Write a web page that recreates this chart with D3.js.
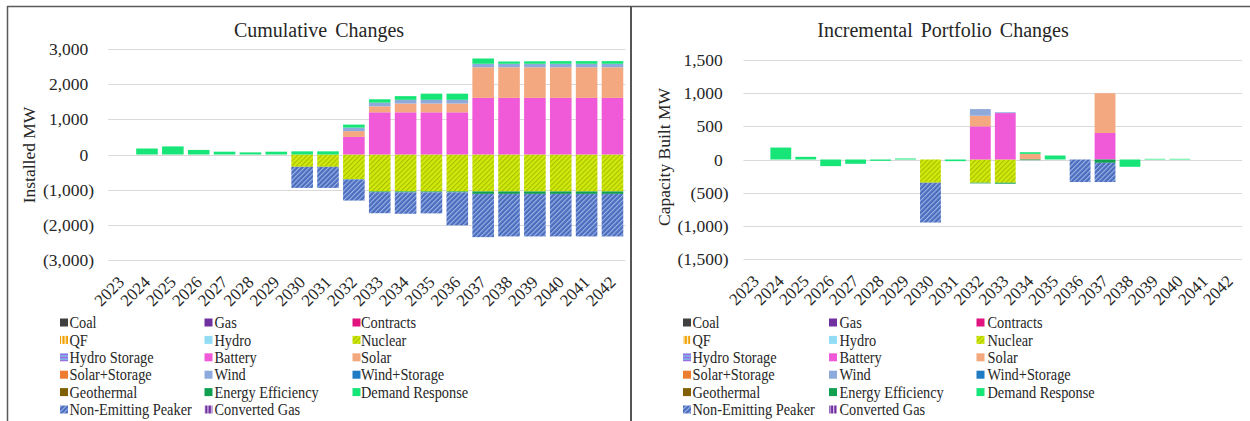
<!DOCTYPE html>
<html><head><meta charset="utf-8">
<script src="https://cdn.jsdelivr.net/npm/d3@7"></script>
<style>
body{margin:0;background:#fff}
svg{display:block}
svg text{font-family:"Liberation Serif","Times New Roman",Times,serif;fill:#262626}
</style>
</head><body>
<svg id="c" width="1250" height="421" font-family="Liberation Serif, Times New Roman, serif"></svg>
<script>
// ---------- DATA ----------
const years = ["2023","2024","2025","2026","2027","2028","2029","2030","2031","2032",
               "2033","2034","2035","2036","2037","2038","2039","2040","2041","2042"];

const seriesNames = ["Coal","Gas","Contracts","QF","Hydro","Nuclear","Hydro Storage","Battery",
  "Solar","Solar+Storage","Wind","Wind+Storage","Geothermal","Energy Efficiency",
  "Demand Response","Non-Emitting Peaker","Converted Gas"];

const seriesColors = ["#404040","#7030A0","#E0137F","#F0A000","#92DDF5","#CDE612","#9B6FE0",
  "#F05AD8","#F4A87F","#ED7D31","#8EA9DB","#1F7BC4","#806000","#10A050","#17E577",
  "#4D70C0","#7030A0"];

// Cumulative Changes (MW)
const cumNuclear = [0,0,0,0,0,0,0,-350,-350,-700,-1050,-1050,-1050,-1050,-1050,-1050,-1050,-1050,-1050,-1050];
const cumBattery = [0,0,0,0,0,0,0,0,0,500,1200,1200,1200,1200,1610,1610,1610,1610,1610,1610];
const cumSolar   = [0,0,0,0,0,0,0,0,0,165,170,250,250,250,870,870,870,870,870,870];
const cumWind    = [0,0,0,0,0,0,0,0,0,100,105,105,105,105,100,100,100,100,100,100];
const cumEE      = [0,0,0,0,0,0,0,0,0,-10,-20,-25,-25,-25,-70,-70,-70,-70,-70,-70];
const cumDR      = [0,170,230,130,80,60,80,90,90,85,95,105,175,175,150,65,70,75,75,75];
const cumPeaker  = [0,0,0,0,0,0,0,-600,-600,-600,-600,-610,-600,-940,-1230,-1210,-1210,-1210,-1210,-1210];

// Incremental Portfolio Changes (MW)
const incNuclear = [0,0,0,0,0,0,0,-350,0,-350,-350,0,0,0,0,0,0,0,0,0];
const incBattery = [0,0,0,0,0,0,0,0,0,500,700,0,0,0,400,0,0,0,0,0];
const incSolar   = [0,0,0,0,0,0,0,0,0,160,0,85,0,0,600,0,0,0,0,0];
const incWind    = [0,0,0,0,0,0,0,0,0,100,12,0,0,0,0,0,0,0,0,0];
const incEE      = [0,0,0,0,0,0,0,0,0,-10,-15,-10,0,0,-50,0,0,0,0,0];
const incDR      = [0,180,40,-100,-65,-20,15,0,-25,0,0,25,60,0,0,-110,10,10,0,0];
const incPeaker  = [0,0,0,0,0,0,0,-600,0,0,0,0,0,-340,-290,0,0,0,0,0];

const leftTicks  = [3000,2000,1000,0,-1000,-2000,-3000];
const rightTicks = [1500,1000,500,0,-500,-1000,-1500];

// ---------- BUILD ----------
function buildRows(map){
  return years.map((y,i)=>{
    const r = {year:y};
    seriesNames.forEach(s=>{ r[s] = map[s] ? map[s][i] : 0; });
    return r;
  });
}
const leftRows = buildRows({"Nuclear":cumNuclear,"Battery":cumBattery,"Solar":cumSolar,"Wind":cumWind,
  "Energy Efficiency":cumEE,"Demand Response":cumDR,"Non-Emitting Peaker":cumPeaker});
const rightRows = buildRows({"Nuclear":incNuclear,"Battery":incBattery,"Solar":incSolar,"Wind":incWind,
  "Energy Efficiency":incEE,"Demand Response":incDR,"Non-Emitting Peaker":incPeaker});

const svg = d3.select("#c");
const defs = svg.append("defs");

function stripePattern(id, bg, fg, w, size, angle){
  const p = defs.append("pattern").attr("id",id).attr("patternUnits","userSpaceOnUse")
    .attr("width",size).attr("height",size).attr("patternTransform",`rotate(${angle})`);
  p.append("rect").attr("width",size).attr("height",size).attr("fill",bg);
  p.append("rect").attr("width",w).attr("height",size).attr("fill",fg);
}
stripePattern("p-nuc","#D0EA0C","#A8BE00",1.1,3.4,45);
stripePattern("p-peak","#4B6DBF","#9DB4E4",1.1,3.4,45);
stripePattern("p-qf","#F0A000","#FFFFFF",1.2,3.4,0);
stripePattern("p-hs","#9B6FE0","#7FB0EA",1.6,3.2,90);
stripePattern("p-cg","#7030A0","#D9C6EA",1.2,3.4,0);

const patFill = {"Nuclear":"url(#p-nuc)","Non-Emitting Peaker":"url(#p-peak)","QF":"url(#p-qf)",
  "Hydro Storage":"url(#p-hs)","Converted Gas":"url(#p-cg)"};
const fillOf = (s,i)=> patFill[s] || seriesColors[i];

const fmt = v => v<0 ? "(" + d3.format(",")(-v) + ")" : d3.format(",")(v);

// frame
svg.append("line").attr("x1",7).attr("x2",1250).attr("y1",6.5).attr("y2",6.5).attr("stroke","#5a5a5a").attr("stroke-width",1.5);
svg.append("line").attr("x1",7.5).attr("x2",7.5).attr("y1",6).attr("y2",421).attr("stroke","#5a5a5a").attr("stroke-width",1.5);
svg.append("line").attr("x1",631).attr("x2",631).attr("y1",6).attr("y2",421).attr("stroke","#555").attr("stroke-width",2);

const FONT = "'Liberation Serif','Times New Roman',serif";

function drawChart(cfg){
  const g = svg.append("g").attr("font-family",FONT);
  const x = d3.scaleBand().domain(years).range([cfg.x0,cfg.x1]).paddingInner(0.165).paddingOuter(0.0825);
  const y = d3.scaleLinear().domain([cfg.ticks[cfg.ticks.length-1], cfg.ticks[0]]).range([cfg.yBot,cfg.yTop]);

  // grid
  g.append("g").selectAll("line").data(cfg.ticks).join("line")
    .attr("x1",cfg.x0).attr("x2",cfg.x1)
    .attr("y1",d=>Math.round(y(d))+0.5).attr("y2",d=>Math.round(y(d))+0.5)
    .attr("stroke","#D9D9D9").attr("stroke-width",1);

  // y labels
  g.append("g").selectAll("text").data(cfg.ticks).join("text")
    .attr("font-family",FONT)
    .attr("x",d=> d<0 ? cfg.labX : cfg.labX-5.7)
    .attr("y",d=>y(d)).attr("dy","0.35em")
    .attr("text-anchor","end").attr("font-size",17.5).text(fmt);

  // stacks
  const stack = d3.stack().keys(seriesNames).offset(d3.stackOffsetDiverging);
  const layers = stack(cfg.rows);
  g.append("g").selectAll("g").data(layers).join("g")
    .attr("fill",(d,i)=>fillOf(d.key,i))
    .selectAll("rect").data(d=>d.filter(e=>e[1]!==e[0])).join("rect")
    .attr("x",d=>x(d.data.year)).attr("width",x.bandwidth())
    .attr("y",d=>y(Math.max(d[0],d[1])))
    .attr("height",d=>Math.abs(y(d[0])-y(d[1])));

  // x labels
  g.append("g").selectAll("text").data(years).join("text")
    .attr("font-family",FONT)
    .attr("transform",d=>`translate(${x(d)+x.bandwidth()/2},${cfg.yBot+19}) rotate(-45)`)
    .attr("text-anchor","end").attr("dy","0.35em").attr("font-size",17).text(d=>d);

  // title
  g.append("text").attr("font-family",FONT).attr("x",cfg.titleX).attr("y",cfg.titleY).attr("text-anchor","middle")
    .attr("font-size",20).attr("word-spacing","3px").text(cfg.title);
  // y title
  g.append("text").attr("font-family",FONT).attr("transform",`translate(${cfg.yTitleX},${cfg.yTitleY}) rotate(-90)`)
    .attr("text-anchor","middle").attr("font-size",17.5).text(cfg.yTitle);

  // legend
  const lg = g.append("g");
  seriesNames.forEach((s,i)=>{
    const col = i%3, row = Math.floor(i/3);
    const cy = 322.5 + row*17.4;
    const mx = cfg.legMarkX[col];
    lg.append("rect").attr("x",mx).attr("y",cy-4).attr("width",8).attr("height",8).attr("fill",fillOf(s,i));
    lg.append("text").attr("font-family",FONT).attr("transform",`translate(${cfg.legTextX[col]},${cy}) scale(0.87,1)`)
      .attr("dy","0.35em").attr("font-size",16.5).text(s);
  });
}

drawChart({rows:leftRows, ticks:leftTicks, x0:108.2, x1:625.4, yTop:49, yBot:260,
  labX:94, title:"Cumulative Changes", titleX:319, titleY:36.5,
  yTitle:"Installed MW", yTitleX:35, yTitleY:155,
  legMarkX:[60,204.5,352.5], legTextX:[69.5,214.5,361]});

drawChart({rows:rightRows, ticks:rightTicks, x0:743.4, x1:1242.2, yTop:60, yBot:259,
  labX:728.5, title:"Incremental Portfolio Changes", titleX:943, titleY:37,
  yTitle:"Capacity Built MW", yTitleX:670, yTitleY:157,
  legMarkX:[683,829,976.5], legTextX:[692.5,839.5,987.5]});
</script>
</body></html>
